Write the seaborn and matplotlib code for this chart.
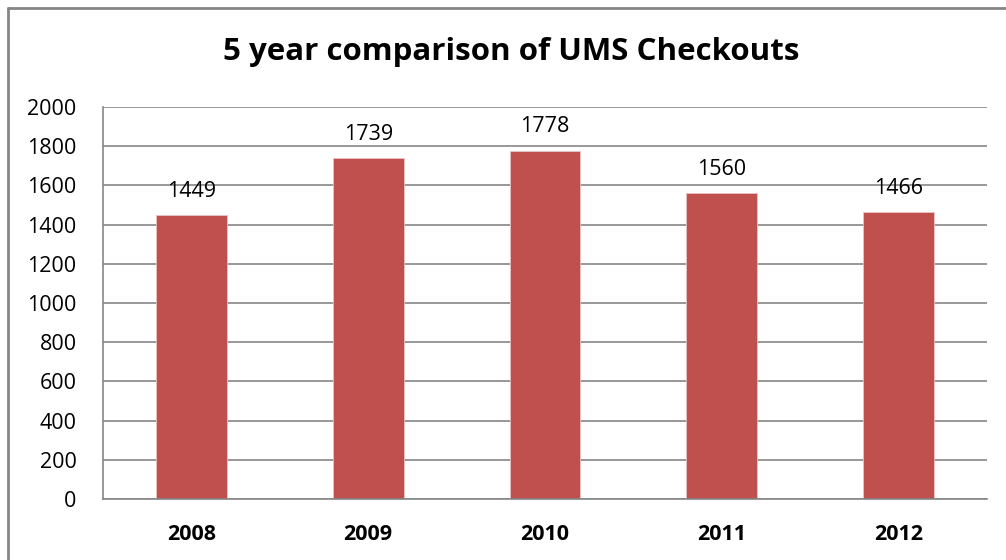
import seaborn as sns
from matplotlib import pyplot as plt
from matplotlib.lines import Line2D
import pandas as pd

# data
years = ['2008', '2009', '2010', '2011', '2012']
checkouts = [1449, 1739, 1778, 1560, 1466]
y_ticks = [0, 200, 400, 600, 800, 1000, 1200, 1400, 1600, 1800, 2000]

df = pd.DataFrame({'year': years, 'checkouts': checkouts})

sns.set_style('white')
plt.rcParams['font.family'] = ['Open Sans', 'DejaVu Sans']

W, H = 1006, 560
fig = plt.figure(figsize=(W / 100, H / 100), dpi=100)
ax = fig.add_axes([103 / W, 1 - 499 / H, 884 / W, 392 / H])

sns.barplot(data=df, x='year', y='checkouts', color='#C0504D', width=0.4,
            saturation=1, edgecolor='#E8C4C3', linewidth=0.6, ax=ax)

ax.set_ylim(0, 2000)
ax.set_xlim(-0.5, len(years) - 0.5)
ax.set_yticks(y_ticks)
ax.set_yticklabels([str(t) for t in y_ticks], fontsize=15.5, color='black')
ax.set_xticklabels(years, fontsize=15.5, fontweight='bold', color='black')
ax.set_xlabel('')
ax.set_ylabel('')

ax.yaxis.grid(True, color='#868686', linewidth=1.2)
ax.set_axisbelow(True)
for s in ['top', 'right']:
    ax.spines[s].set_visible(False)
for s in ['left', 'bottom']:
    ax.spines[s].set_color('#868686')
    ax.spines[s].set_linewidth(1.2)

# category boundary ticks on the x axis, small outward ticks on y
ax.set_xticks([i - 0.5 for i in range(len(years) + 1)], minor=True)
ax.tick_params(axis='x', which='major', length=0, pad=18)
ax.tick_params(axis='x', which='minor', length=6, width=1.2, color='#868686', direction='out')
ax.tick_params(axis='y', length=4, width=1.2, color='#868686', direction='out', pad=15)

for i, v in enumerate(checkouts):
    ax.annotate(str(v), (i, v), xytext=(0, 13), textcoords='offset points',
                ha='center', va='baseline', fontsize=15.5, color='black')

fig.text(511 / W, 1 - 52 / H, '5 year comparison of UMS Checkouts',
         ha='center', va='center', fontsize=22.5, fontweight='bold', color='black')

# chart frame: only top and left edges are visible in the reference
fig.lines.append(Line2D([7.5 / W, 1], [1 - 8 / H, 1 - 8 / H], transform=fig.transFigure,
                        color='#868686', linewidth=2))
fig.lines.append(Line2D([7.5 / W, 7.5 / W], [0, 1 - 8 / H], transform=fig.transFigure,
                        color='#868686', linewidth=2))

fig.savefig('out.png', dpi=100)
